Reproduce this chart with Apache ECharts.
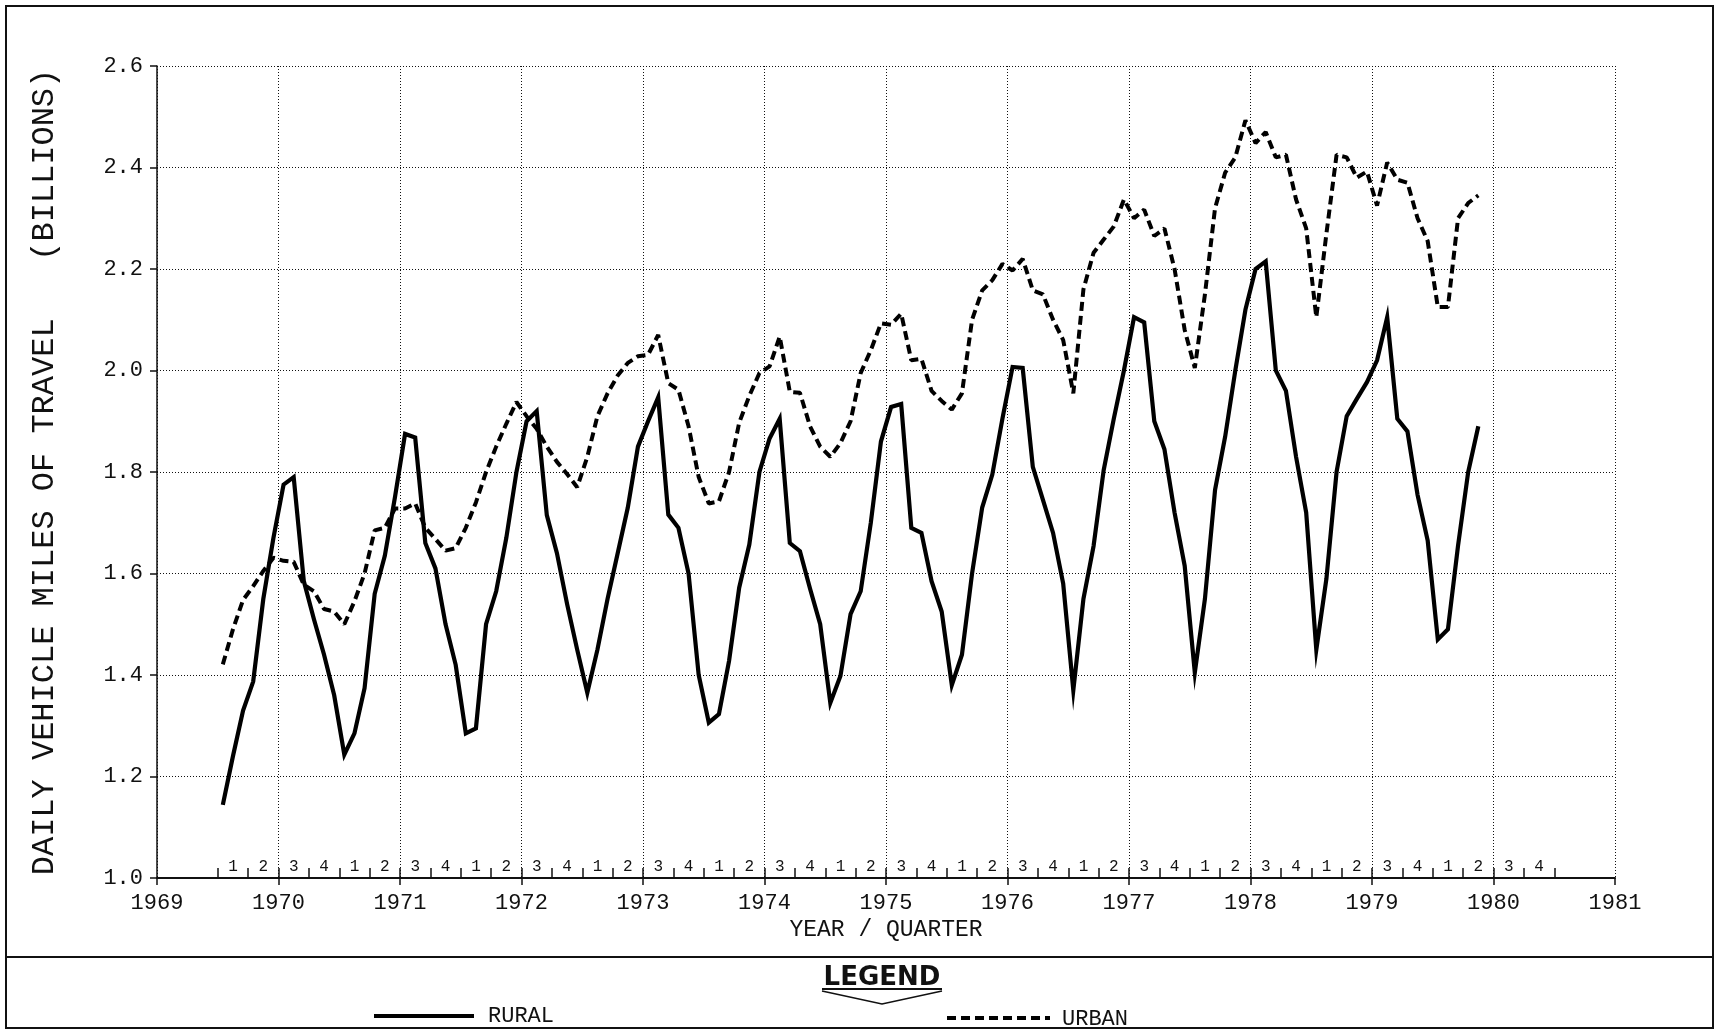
<!DOCTYPE html>
<html>
<head>
<meta charset="utf-8">
<title>Daily vehicle miles of travel</title>
<script src="https://cdn.jsdelivr.net/npm/echarts@6/dist/echarts.min.js"></script>
<style>
  html, body { margin: 0; padding: 0; background: #fff; }
  #chart { width: 1715px; height: 1032px; }
</style>
</head>
<body>
<div id="chart"></div>
<script>
// Monthly points, first one plotted half a month after 1969.5 on the year axis.
const FIRST_YEAR = 1969.5;

// Rural daily vehicle miles (billions), 12 values per row
const rural = [
  1.144, 1.24, 1.33, 1.387, 1.55, 1.67, 1.775, 1.79, 1.585, 1.51, 1.44, 1.36,
  1.243, 1.285, 1.374, 1.56, 1.635, 1.75, 1.875, 1.868, 1.66, 1.61, 1.50, 1.42,
  1.285, 1.295, 1.50, 1.565, 1.67, 1.80, 1.90, 1.92, 1.715, 1.64, 1.54, 1.45,
  1.365, 1.45, 1.55, 1.64, 1.73, 1.85, 1.90, 1.947, 1.716, 1.69, 1.60, 1.40,
  1.306, 1.323, 1.428, 1.572, 1.657, 1.80, 1.866, 1.905, 1.66, 1.644, 1.57, 1.50,
  1.345, 1.398, 1.52, 1.565, 1.70, 1.86, 1.928, 1.934, 1.69, 1.68, 1.585, 1.525,
  1.38, 1.44, 1.60, 1.73, 1.795, 1.905, 2.007, 2.005, 1.81, 1.745, 1.68, 1.58,
  1.37, 1.55, 1.654, 1.804, 1.905, 2.0, 2.105, 2.095, 1.90, 1.845, 1.72, 1.615,
  1.405, 1.55, 1.765, 1.87, 2.0, 2.12, 2.20, 2.215, 2.0, 1.96, 1.83, 1.72,
  1.45, 1.59, 1.80, 1.91, 1.944, 1.977, 2.02, 2.105, 1.905, 1.88, 1.755, 1.665,
  1.47, 1.49, 1.655, 1.80, 1.89
];

// Urban daily vehicle miles (billions), same months
const urban = [
  1.421, 1.49, 1.548, 1.575, 1.605, 1.631, 1.625, 1.623, 1.578, 1.565, 1.53, 1.525,
  1.50, 1.545, 1.60, 1.685, 1.69, 1.728, 1.728, 1.738, 1.69, 1.668, 1.645, 1.65,
  1.69, 1.74, 1.80, 1.85, 1.895, 1.938, 1.91, 1.885, 1.85, 1.82, 1.796, 1.77,
  1.83, 1.91, 1.955, 1.99, 2.015, 2.028, 2.031, 2.07, 1.975, 1.962, 1.89, 1.79,
  1.738, 1.742, 1.80, 1.897, 1.95, 1.995, 2.008, 2.067, 1.958, 1.956, 1.89, 1.85,
  1.83, 1.857, 1.90, 1.995, 2.04, 2.093, 2.09, 2.112, 2.02, 2.023, 1.96, 1.94,
  1.923, 1.955, 2.10, 2.158, 2.178, 2.21, 2.197, 2.22, 2.158, 2.15, 2.10, 2.06,
  1.955, 2.16, 2.232, 2.258, 2.284, 2.337, 2.30, 2.317, 2.265, 2.28, 2.20, 2.08,
  2.005, 2.15, 2.32, 2.39, 2.42, 2.493, 2.448, 2.47, 2.42, 2.425, 2.337, 2.28,
  2.105, 2.27, 2.425, 2.42, 2.38, 2.392, 2.325, 2.41, 2.376, 2.37, 2.30, 2.255,
  2.125, 2.125, 2.30, 2.33, 2.345
];

// Quarter strip along the bottom: 1969.5 .. 1980.5, numbered 1-4 repeating
const QUARTER_NAMES = ['1', '2', '3', '4'];
const QUARTER_COUNT = 44;
const quarterLabels = Array.from({ length: QUARTER_COUNT }, (_, k) => QUARTER_NAMES[k % 4]);

const YEAR_MIN = 1969;
const YEAR_MAX = 1981;
const Y_MIN = 1.0;
const Y_MAX = 2.6;
const Y_STEP = 0.2;

const MONO = '"Liberation Mono", "DejaVu Sans Mono", monospace';
const INK = '#111';
const URBAN_DASH = [9, 5];

function toPoints(values) {
  return values.map((v, i) => [FIRST_YEAR + (i + 0.5) / 12, v]);
}

// plot box in page pixels
const PLOT = { left: 157, right: 100, top: 66, bottom: 154 };
const yearPx = (1715 - PLOT.left - PLOT.right) / (YEAR_MAX - YEAR_MIN);

const chart = echarts.init(document.getElementById('chart'), null, { renderer: 'canvas' });

chart.setOption({
  animation: false,
  backgroundColor: '#fff',
  textStyle: { fontFamily: MONO, color: INK },
  grid: [
    { left: PLOT.left, right: PLOT.right, top: PLOT.top, bottom: PLOT.bottom },
    {
      left: PLOT.left + (FIRST_YEAR - YEAR_MIN) * yearPx,
      right: PLOT.right + 0.5 * yearPx,
      top: PLOT.top, bottom: PLOT.bottom
    }
  ],
  xAxis: [
    {
      type: 'value', gridIndex: 0,
      min: YEAR_MIN, max: YEAR_MAX, interval: 1,
      name: 'YEAR / QUARTER', nameLocation: 'middle', nameGap: 38,
      nameTextStyle: { fontFamily: MONO, fontSize: 23, color: INK },
      axisLine: { lineStyle: { color: INK, width: 2 } },
      axisTick: { length: 7, lineStyle: { color: INK, width: 1.5 } },
      axisLabel: {
        margin: 14, fontFamily: MONO, fontSize: 22, color: INK,
        formatter: v => String(v)
      },
      splitLine: { show: true, lineStyle: { color: INK, width: 1, type: [1, 2] } },
      z: 3
    },
    {
      type: 'category', gridIndex: 1, position: 'bottom',
      data: quarterLabels, boundaryGap: true,
      axisLine: { show: true, onZero: false, lineStyle: { color: 'rgba(0,0,0,0)', width: 0 } },
      axisTick: { show: true, inside: true, length: 10, interval: 0, lineStyle: { color: INK, width: 1.5 } },
      axisLabel: { show: true, inside: true, interval: 0, margin: 3, fontFamily: MONO, fontSize: 16, color: INK },
      splitLine: { show: false },
      z: 4
    }
  ],
  yAxis: [
    {
      type: 'value', gridIndex: 0,
      min: Y_MIN, max: Y_MAX, interval: Y_STEP,
      name: 'DAILY VEHICLE MILES OF TRAVEL   (BILLIONS)',
      nameLocation: 'middle', nameRotate: 90, nameGap: 96,
      nameTextStyle: { fontFamily: MONO, fontSize: 32, color: INK },
      axisLine: { show: true, lineStyle: { color: INK, width: 1.5 } },
      axisTick: { show: true, length: 7, lineStyle: { color: INK, width: 1.5 } },
      axisLabel: {
        margin: 14, fontFamily: MONO, fontSize: 22, color: INK,
        formatter: v => v.toFixed(1)
      },
      splitLine: { show: true, lineStyle: { color: INK, width: 1, type: [1, 2] } }
    },
    { type: 'value', gridIndex: 1, show: false, min: Y_MIN, max: Y_MAX }
  ],
  series: [
    {
      name: 'RURAL', type: 'line', xAxisIndex: 0, yAxisIndex: 0,
      data: toPoints(rural), symbol: 'none', showSymbol: false,
      lineStyle: { color: '#000', width: 4.2, type: 'solid', join: 'miter' }
    },
    {
      name: 'URBAN', type: 'line', xAxisIndex: 0, yAxisIndex: 0,
      data: toPoints(urban), symbol: 'none', showSymbol: false,
      lineStyle: { color: '#000', width: 4, type: URBAN_DASH }
    }
  ],
  graphic: [
    // page frame and legend panel divider
    { type: 'rect', shape: { x: 6, y: 6, width: 1707, height: 1022 },
      style: { fill: 'none', stroke: INK, lineWidth: 2 } },
    { type: 'line', shape: { x1: 6, y1: 957, x2: 1713, y2: 957 },
      style: { stroke: INK, lineWidth: 2 } },
    // LEGEND heading with its underline and chevron
    { type: 'text', x: 882, y: 965,
      style: { text: 'LEGEND', fill: INK, align: 'center', verticalAlign: 'top',
               font: 'bold 26px "DejaVu Sans", sans-serif' } },
    { type: 'line', shape: { x1: 822, y1: 989, x2: 942, y2: 989 },
      style: { stroke: INK, lineWidth: 2 } },
    { type: 'polyline', shape: { points: [[822, 991], [882, 1004], [942, 991]] },
      style: { stroke: INK, lineWidth: 1.5, fill: 'none' } },
    // legend keys
    { type: 'line', shape: { x1: 374, y1: 1016, x2: 474, y2: 1016 },
      style: { stroke: '#000', lineWidth: 4 } },
    { type: 'text', x: 488, y: 1016,
      style: { text: 'RURAL', fill: INK, align: 'left', verticalAlign: 'middle',
               font: '22px ' + MONO } },
    { type: 'line', shape: { x1: 947, y1: 1018, x2: 1050, y2: 1018 },
      style: { stroke: '#000', lineWidth: 4, lineDash: URBAN_DASH } },
    { type: 'text', x: 1062, y: 1019,
      style: { text: 'URBAN', fill: INK, align: 'left', verticalAlign: 'middle',
               font: '22px ' + MONO } }
  ]
});
</script>
</body>
</html>
